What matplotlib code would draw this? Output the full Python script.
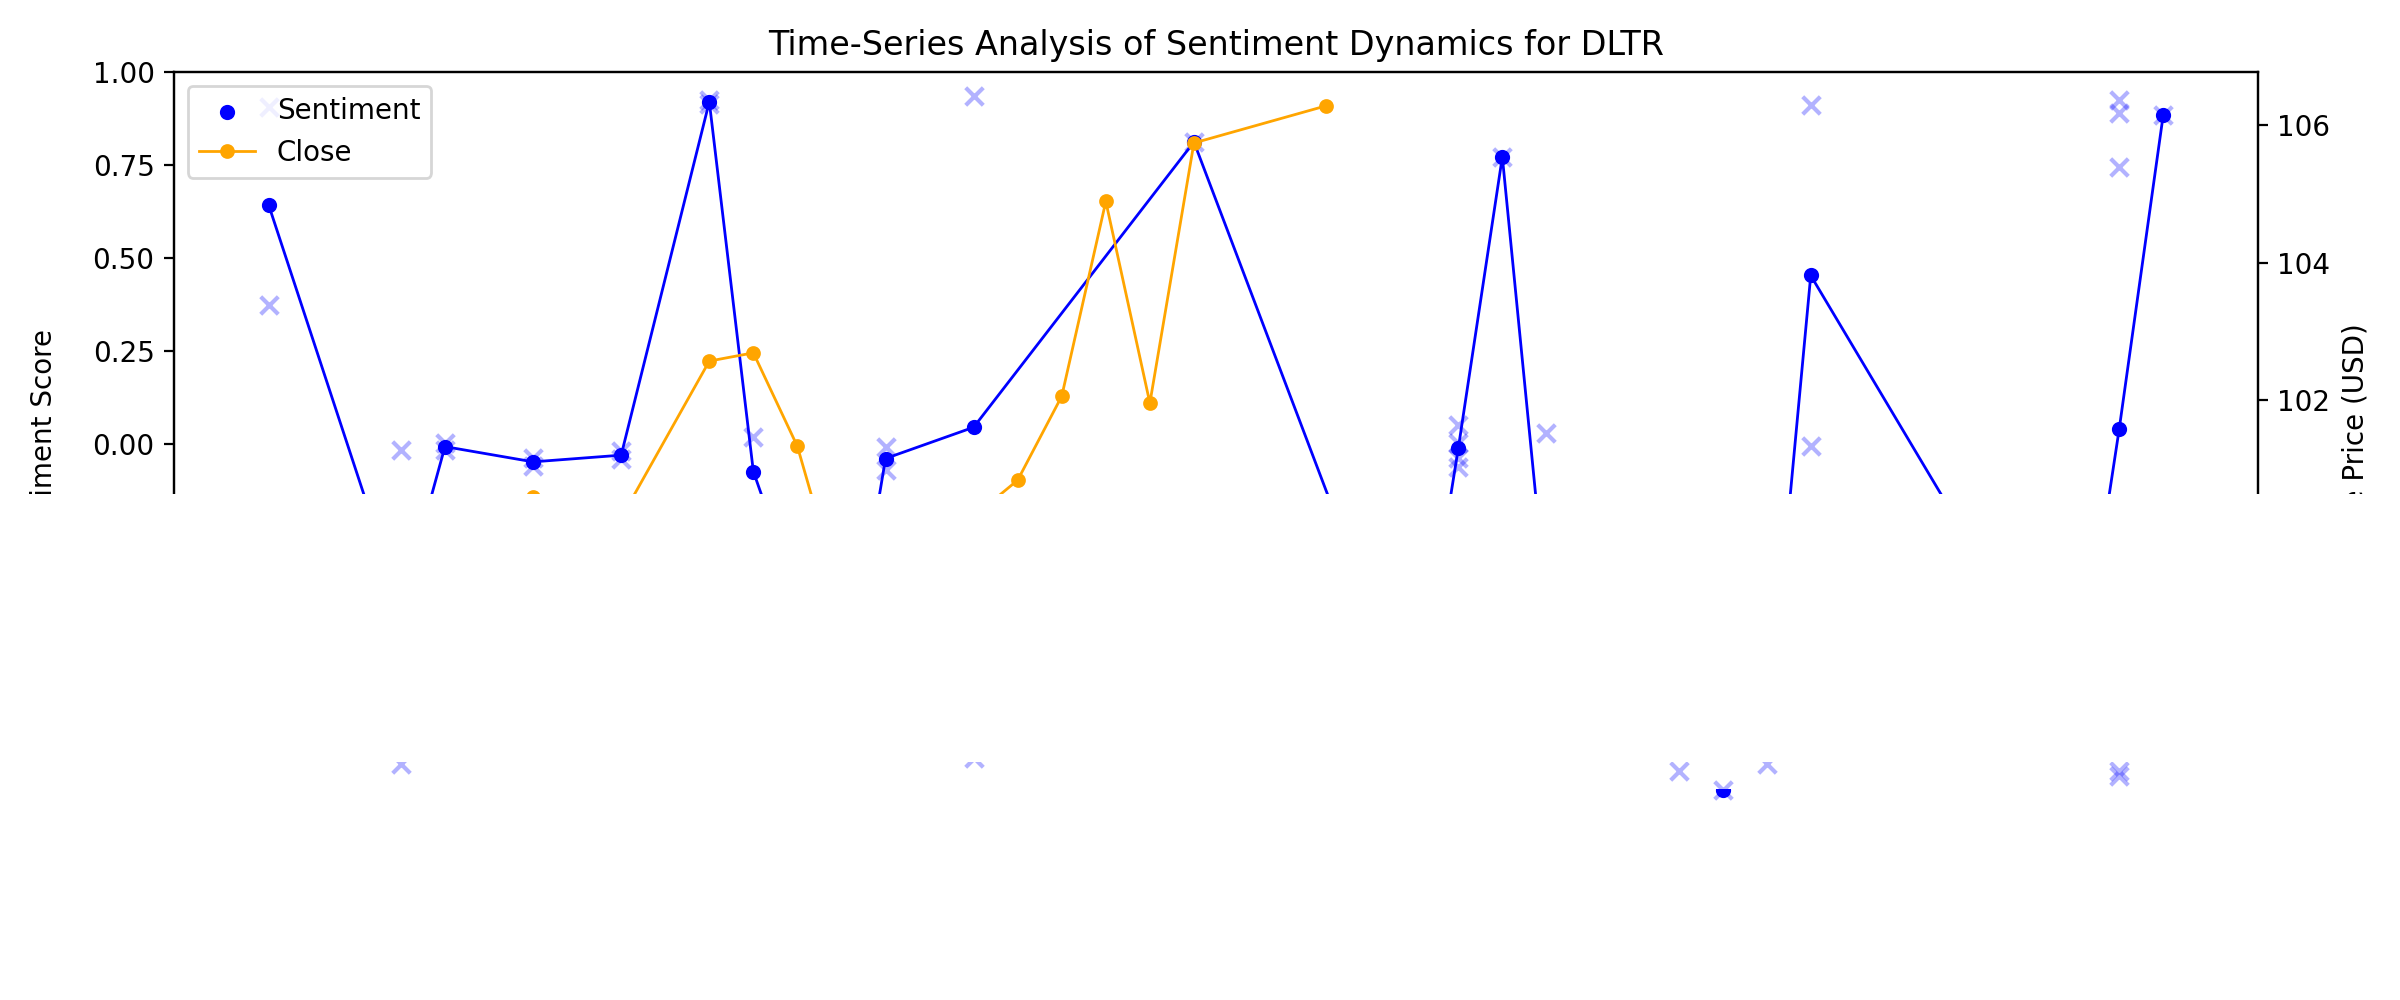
import matplotlib
matplotlib.use("Agg")
import matplotlib.pyplot as plt
import pandas as pd
from matplotlib.patches import Rectangle
from matplotlib.transforms import Bbox, TransformedBbox

# ---------------- data ----------------
# individual article sentiment scores
article_dates = [
    "2024-03-01", "2024-03-01",
    "2024-03-04", "2024-03-04",
    "2024-03-05", "2024-03-05",
    "2024-03-07", "2024-03-07",
    "2024-03-09", "2024-03-09",
    "2024-03-11", "2024-03-11",
    "2024-03-12", "2024-03-12",
    "2024-03-14",
    "2024-03-15", "2024-03-15",
    "2024-03-17", "2024-03-17",
    "2024-03-22",
    "2024-03-27",
    "2024-03-28", "2024-03-28", "2024-03-28", "2024-03-28",
    "2024-03-29",
    "2024-03-30", "2024-03-30", "2024-03-30",
    "2024-04-02", "2024-04-02",
    "2024-04-03",
    "2024-04-04", "2024-04-04",
    "2024-04-05", "2024-04-05",
    "2024-04-11",
    "2024-04-12", "2024-04-12", "2024-04-12", "2024-04-12", "2024-04-12", "2024-04-12",
    "2024-04-13",
]
article_scores = [
    0.906, 0.373,
    -0.016, -0.86,
    0.003, -0.017,
    -0.038, -0.058,
    -0.020, -0.040,
    0.925, 0.915,
    0.019, -0.167,
    -0.75,
    -0.007, -0.070,
    0.935, -0.845,
    0.812,
    -0.75,
    0.051, 0.002, -0.038, -0.061,
    0.772,
    0.03, -0.70, -0.62,
    -0.88, -0.40,
    -0.93,
    -0.86, -0.774,
    0.91, -0.005,
    -0.74,
    0.924, 0.889, 0.745, -0.879, -0.893, -0.552,
    0.884,
]

# daily mean sentiment
daily_dates = [
    "2024-03-01", "2024-03-04", "2024-03-05", "2024-03-07", "2024-03-09",
    "2024-03-11", "2024-03-12", "2024-03-14", "2024-03-15", "2024-03-17",
    "2024-03-22", "2024-03-27", "2024-03-28", "2024-03-29", "2024-03-30",
    "2024-04-02", "2024-04-03", "2024-04-04", "2024-04-05", "2024-04-11",
    "2024-04-12", "2024-04-13",
]
daily_sentiment = [
    0.642, -0.438, -0.007, -0.048, -0.030,
    0.920, -0.074, -0.75, -0.039, 0.045,
    0.812, -0.75, -0.012, 0.772, -0.43,
    -0.64, -0.93, -0.817, 0.453, -0.74,
    0.039, 0.884,
]

# closing price
close_dates = [
    "2024-03-01", "2024-03-04", "2024-03-05", "2024-03-06", "2024-03-07",
    "2024-03-08", "2024-03-11", "2024-03-12", "2024-03-13", "2024-03-14",
    "2024-03-15", "2024-03-18", "2024-03-19", "2024-03-20", "2024-03-21",
    "2024-03-22", "2024-03-25",
]
close_prices = [
    97.8, 96.45, 97.6, 99.0, 100.6,
    99.15, 102.57, 102.69, 101.33, 99.1,
    99.25, 100.84, 102.06, 104.89, 101.96,
    105.74, 106.28,
]

article_dt = pd.to_datetime(article_dates)
daily_dt = pd.to_datetime(daily_dates)
close_dt = pd.to_datetime(close_dates)

# ---------------- figure ----------------
fig = plt.figure(figsize=(12, 5), dpi=200)
L, B, W, H = 0.0725, 0.184, 0.8683, 0.744
ax1 = fig.add_axes([L, B, W, H])

ax1.scatter(article_dt, article_scores, marker="x", color="blue", alpha=0.3, s=40)
ax1.plot(daily_dt, daily_sentiment, color="blue", lw=1)
sent = ax1.scatter(daily_dt, daily_sentiment, color="blue", s=20, zorder=3,
                   label="Sentiment")
ax1.set_ylim(-1, 1)
ax1.set_ylabel("Sentiment Score")
ax1.set_xlabel("Date")
ax1.set_title("Time-Series Analysis of Sentiment Dynamics for DLTR")

ax2 = ax1.twinx()
ax2.plot(close_dt, close_prices, color="orange", marker="o", ms=4.3, lw=1,
         label="Close")
ax2.set_ylabel("Close Price (USD)")

h1, l1 = ax1.get_legend_handles_labels()
h2, l2 = ax2.get_legend_handles_labels()
ax2.legend(h1 + h2, l1 + l2, loc="upper left")

# blank band covering the lower part of the chart
fig.add_artist(Rectangle((0, 0), 1, 0.506, transform=fig.transFigure,
                         facecolor="white", edgecolor="none", zorder=5))

# lower strip where only some markers remain visible
ax3 = fig.add_axes([L, B, W, H], sharex=ax1, zorder=6)
ax3.set_ylim(-1, 1)
ax3.axis("off")
sx = ax3.scatter(article_dt, article_scores, marker="x", color="blue",
                 alpha=0.3, s=40)
sx.set_clip_box(TransformedBbox(Bbox([[L, B], [L + W, 0.238]]), fig.transFigure))
sd = ax3.scatter(daily_dt, daily_sentiment, color="blue", s=20, zorder=3)
sd.set_clip_box(TransformedBbox(Bbox([[L, B], [L + W, 0.211]]), fig.transFigure))

fig.savefig("out.png", dpi=200)
